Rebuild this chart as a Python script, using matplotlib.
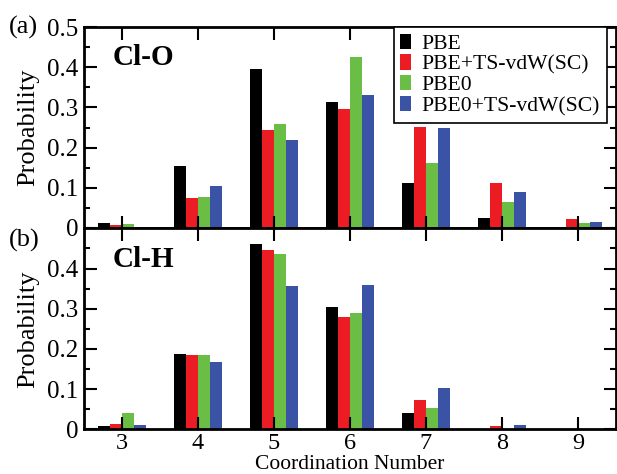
import matplotlib
matplotlib.use("Agg")
import matplotlib.pyplot as plt
import numpy as np
from matplotlib.ticker import MultipleLocator

plt.rcParams['font.family'] = ['Liberation Serif', 'DejaVu Serif']

coordination = [3, 4, 5, 6, 7, 8, 9]
methods = ["PBE", "PBE+TS-vdW(SC)", "PBE0", "PBE0+TS-vdW(SC)"]
colors = ["#000000", "#ec1c24", "#6abd45", "#3a53a4"]

# Cl-O coordination number distribution
cl_o_pbe      = [0.012, 0.154, 0.396, 0.313, 0.112, 0.025, 0.000]
cl_o_pbe_ts   = [0.007, 0.075, 0.245, 0.296, 0.252, 0.112, 0.022]
cl_o_pbe0     = [0.010, 0.077, 0.259, 0.425, 0.161, 0.065, 0.013]
cl_o_pbe0_ts  = [0.001, 0.104, 0.220, 0.330, 0.249, 0.090, 0.015]

# Cl-H coordination number distribution
cl_h_pbe      = [0.008, 0.188, 0.461, 0.305, 0.040, 0.001, 0.000]
cl_h_pbe_ts   = [0.014, 0.186, 0.445, 0.280, 0.073, 0.008, 0.001]
cl_h_pbe0     = [0.040, 0.184, 0.436, 0.290, 0.052, 0.001, 0.000]
cl_h_pbe0_ts  = [0.011, 0.167, 0.356, 0.360, 0.103, 0.010, 0.000]

panels = [
    ("Cl-O", [cl_o_pbe, cl_o_pbe_ts, cl_o_pbe0, cl_o_pbe0_ts],
     [0, 0.1, 0.2, 0.3, 0.4, 0.5], ["0", "0.1", "0.2", "0.3", "0.4", "0.5"]),
    ("Cl-H", [cl_h_pbe, cl_h_pbe_ts, cl_h_pbe0, cl_h_pbe0_ts],
     [0, 0.1, 0.2, 0.3, 0.4], ["0", "0.1", "0.2", "0.3", "0.4"]),
]

fig = plt.figure(figsize=(6.17, 4.74), dpi=100)
ax_top = fig.add_axes([0.1361, 0.519, 0.8622, 0.424])
ax_bot = fig.add_axes([0.1361, 0.0943, 0.8622, 0.424])

width = 0.16
offsets = [-1.5 * width, -0.5 * width, 0.5 * width, 1.5 * width]
x = np.array(coordination, dtype=float)

for ax, (name, series, yt, ytl) in zip([ax_top, ax_bot], panels):
    for vals, col, off, lab in zip(series, colors, offsets, methods):
        ax.bar(x + off, vals, width=width, color=col, label=lab,
               edgecolor='none', linewidth=0)
    ax.set_xlim(2.5, 9.5)
    ax.set_ylim(0, 0.5)
    ax.set_xticks(coordination)
    ax.set_yticks(yt)
    ax.set_yticklabels(ytl)
    ax.yaxis.set_minor_locator(MultipleLocator(0.05))
    ax.tick_params(which='both', direction='in', top=True, right=True,
                   width=1.5, labelsize=18)
    ax.tick_params(which='major', length=9)
    ax.tick_params(which='minor', length=4.5)
    ax.tick_params(axis='y', pad=4)
    ax.tick_params(axis='x', pad=3, labelsize=17.5)
    for sp in ax.spines.values():
        sp.set_linewidth(2)
    ax.set_ylabel("Probability", fontsize=19)
    ax.yaxis.set_label_coords(-0.085, 0.5)
    ax.text(0.053, 0.81, name, transform=ax.transAxes, fontsize=21,
            fontweight='bold', ha='left', va='baseline')

ax_top.tick_params(axis='x', labelbottom=False)

# axis title sits at the very bottom of the figure, just under the tick labels
fig.text(0.5 * (0.1361 + 0.9983), 0.0, "Coordination Number", fontsize=15.5,
         ha='center', va='bottom')

fig.text(0.015, 0.930, "(a)", fontsize=19, ha='left', va='baseline')
fig.text(0.015, 0.480, "(b)", fontsize=19, ha='left', va='baseline')

leg = ax_top.legend(loc='upper right', bbox_to_anchor=(0.9825, 1.0),
                    borderaxespad=0, fontsize=15.6, frameon=True, fancybox=False,
                    handlelength=0.5, handleheight=0.72, handletextpad=0.5,
                    labelspacing=0.02, borderpad=0.3)
leg.get_frame().set_edgecolor('black')
leg.get_frame().set_linewidth(1.2)
leg.get_frame().set_alpha(1)

fig.savefig("out.png", dpi=100)
